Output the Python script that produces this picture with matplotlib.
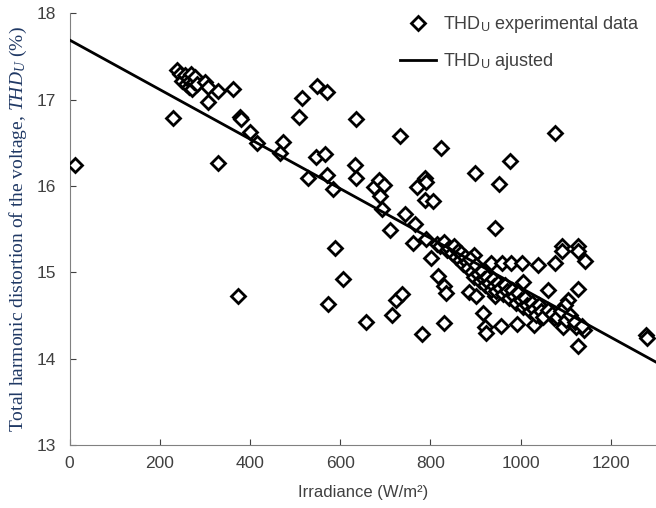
import numpy as np
import matplotlib.pyplot as plt

# irradiance (W/m2) and THD_U (%)
irr = [13, 229, 238, 245, 250, 255, 258, 262, 265, 268, 270, 272, 275, 278, 282,
       301, 307, 328, 362, 307, 328, 377, 381, 399, 415, 473, 466, 515, 509, 549,
       571, 634, 547, 566, 528, 570, 584, 633, 634, 674, 687, 696, 689, 692, 733,
       824, 744, 766, 711, 770, 788, 790, 789, 805, 762, 790, 589, 1077, 977, 899,
       953, 944, 1091, 1128, 607, 573, 657, 714, 724, 736, 781, 829, 801, 816, 831,
       835, 373, 897, 934, 959, 979, 1003, 1039, 1077, 1091, 1128, 1143, 1006, 1061,
       1128, 1105, 1098, 886, 900, 944, 916, 922, 923, 956, 992, 1029, 1074, 1093,
       1115, 1128, 1141, 1122, 1277, 1281,
       815, 822, 830, 836, 842, 848, 852, 857, 860, 865, 868, 872, 876, 880, 884,
       888, 892, 896, 900, 905, 910, 914, 918, 922, 926, 930, 934, 938, 942, 946,
       950, 955, 960, 965, 970, 975, 980, 985, 990, 995, 1000, 1005, 1010, 1015,
       1020, 1025, 1030, 1035, 1040, 1045, 1050, 1060, 1070, 1080, 1090, 1100,
       1110, 1120, 1135]
thd = [16.24, 16.79, 17.34, 17.30, 17.22, 17.28, 17.18, 17.25, 17.15, 17.22, 17.30, 17.12, 17.20, 17.26, 17.18,
       17.20, 17.15, 17.10, 17.12, 16.97, 16.27, 16.80, 16.78, 16.63, 16.50, 16.51, 16.38, 17.02, 16.80, 17.16,
       17.09, 16.78, 16.34, 16.37, 16.09, 16.13, 15.97, 16.24, 16.09, 15.99, 16.07, 16.01, 15.88, 15.73, 16.58,
       16.44, 15.67, 15.56, 15.49, 15.99, 16.09, 16.04, 15.84, 15.82, 15.34, 15.38, 15.28, 16.61, 16.29, 16.15,
       16.02, 15.51, 15.30, 15.30, 14.92, 14.63, 14.42, 14.50, 14.68, 14.75, 14.28, 14.41, 15.17, 14.96, 14.84,
       14.76, 14.73, 15.20, 15.11, 15.11, 15.11, 15.11, 15.08, 15.11, 15.25, 15.25, 15.13, 14.89, 14.79,
       14.81, 14.68, 14.62, 14.77, 14.73, 14.72, 14.53, 14.37, 14.30, 14.38, 14.40, 14.39, 14.47, 14.37,
       14.45, 14.15, 14.33, 14.37, 14.27, 14.24,
       15.33, 15.30, 15.35, 15.26, 15.28, 15.22, 15.30, 15.18, 15.25, 15.14, 15.22, 15.10, 15.18, 15.12, 15.05,
       15.15, 15.00, 14.95, 15.08, 14.98, 14.90, 15.02, 14.92, 14.85, 14.95, 14.88, 14.80, 14.92, 14.84, 14.78,
       14.88, 14.82, 14.75, 14.85, 14.78, 14.70, 14.80, 14.72, 14.65, 14.76, 14.68, 14.60, 14.70, 14.62,
       14.55, 14.65, 14.58, 14.50, 14.62, 14.55, 14.48, 14.56, 14.52, 14.48, 14.55, 14.45,
       14.50, 14.42, 14.38]

# fitted line end points
fit_x = [0, 1300]
fit_y = [17.69, 13.96]

xticks = [0, 200, 400, 600, 800, 1000, 1200]
yticks = [13, 14, 15, 16, 17, 18]

plt.rcParams['font.family'] = ['Liberation Sans', 'DejaVu Sans']
plt.rcParams['mathtext.fontset'] = 'custom'
plt.rcParams['mathtext.rm'] = 'Liberation Sans'
plt.rcParams['mathtext.sf'] = 'Liberation Sans'
plt.rcParams['mathtext.it'] = 'Liberation Serif:italic'

fig = plt.figure(figsize=(6.56, 5.08), dpi=100)
ax = fig.add_axes([0.106, 0.124, 0.894, 0.85])

gray = '#404040'
ax.plot(irr, thd, linestyle='none', marker='D', ms=7, mfc='white', mec='black',
        mew=2, label=r'THD$_\mathrm{U}$ experimental data', zorder=3)
ax.plot(fit_x, fit_y, color='black', lw=2, label=r'THD$_\mathrm{U}$ ajusted', zorder=4)

ax.set_xlim(0, 1300)
ax.set_ylim(13, 18)
ax.set_xticks(xticks)
ax.set_yticks(yticks)
ax.tick_params(direction='in', length=4, colors=gray, labelsize=12.5, width=0.8)
ax.tick_params(axis='x', pad=8)
ax.tick_params(axis='y', pad=10)
for s in ['top', 'right']:
    ax.spines[s].set_visible(False)
for s in ['left', 'bottom']:
    ax.spines[s].set_color('#808080')

ax.set_xlabel('Irradiance (W/m²)', fontsize=12, color=gray, labelpad=10)
ax.set_ylabel(r'Total harmonic distortion of the voltage, $THD_U$ (%)',
              fontsize=14, color='#1F3864', family='Liberation Serif', labelpad=5)

ax.legend(loc='upper left', frameon=False, fontsize=13, handlelength=2.0,
          handletextpad=0.4, borderpad=0, borderaxespad=0, labelspacing=0.9,
          bbox_to_anchor=(400 / 656, 1 - 14 / 508), bbox_transform=fig.transFigure,
          labelcolor=gray)

fig.savefig('out.png', dpi=100)
